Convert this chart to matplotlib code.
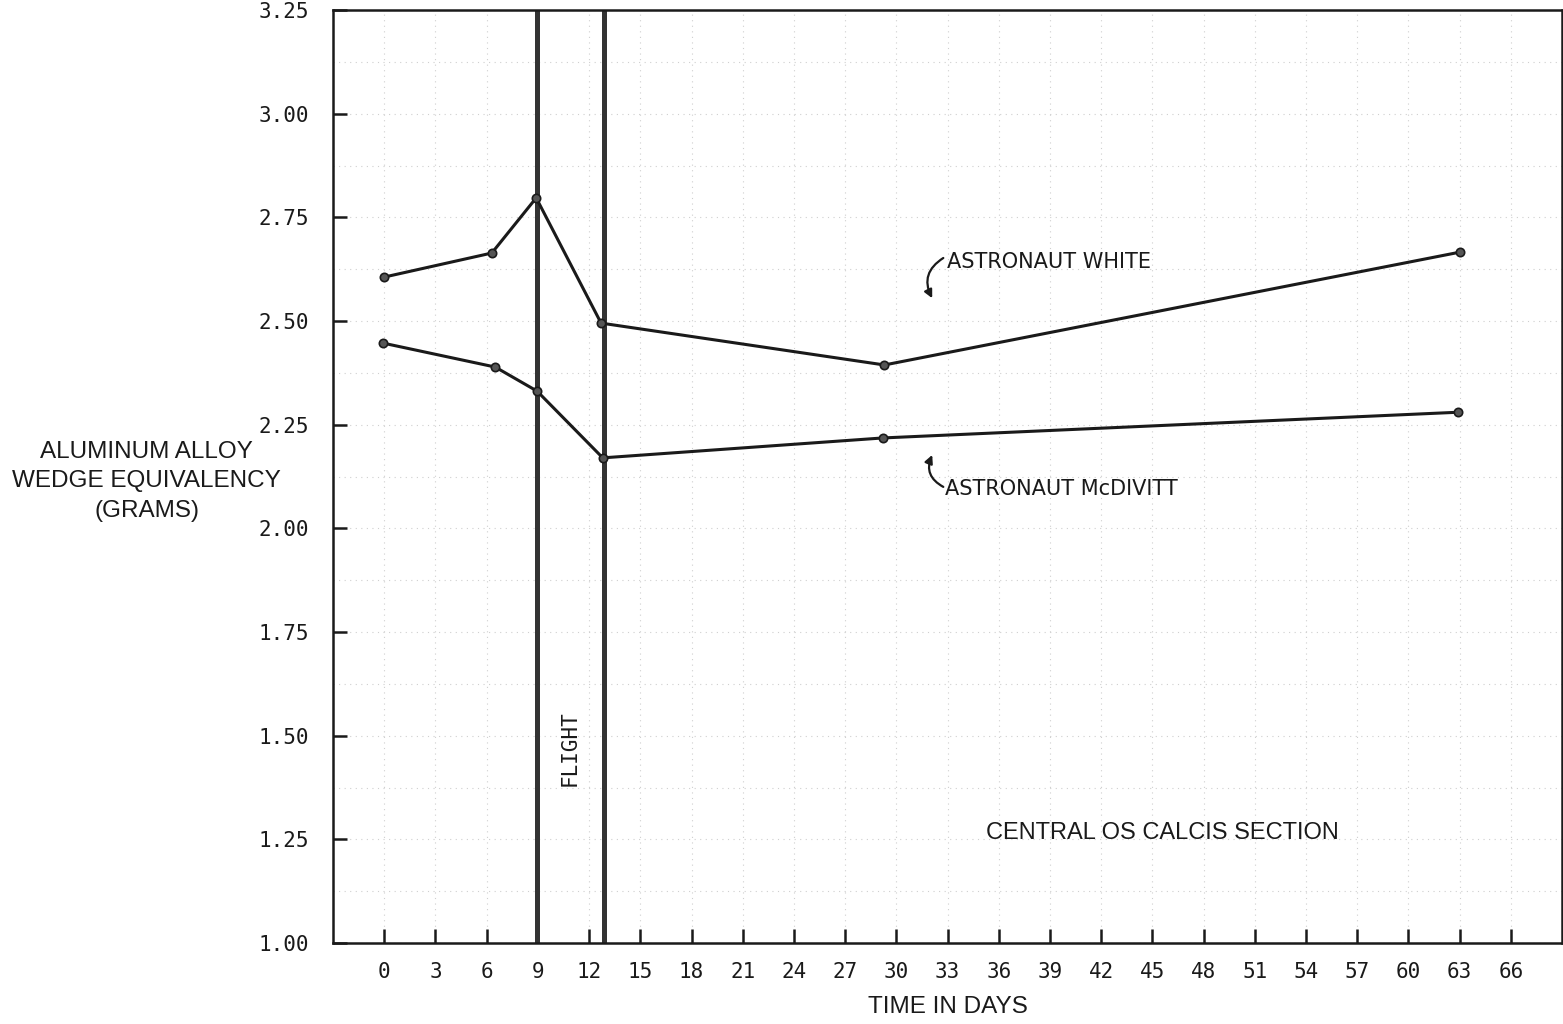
import matplotlib
matplotlib.use("Agg")
import matplotlib.pyplot as plt
import numpy as np

# ─── Data ────────────────────────────────────────────────────────────────────
white_days = [0.0, 6.3, 8.9, 12.7, 29.3, 63.0]
white_grams = [2.606, 2.664, 2.797, 2.495, 2.394, 2.666]

mcdivitt_days = [-0.1, 6.5, 8.95, 12.8, 29.2, 62.9]
mcdivitt_grams = [2.447, 2.389, 2.331, 2.170, 2.218, 2.280]

flight_start, flight_end = 8.95, 12.85

x_ticks = list(range(0, 67, 3))
y_ticks = [1.00, 1.25, 1.50, 1.75, 2.00, 2.25, 2.50, 2.75, 3.00, 3.25]

NARROW = ["Liberation Sans Narrow", "Liberation Sans", "DejaVu Sans"]
MONO = ["DejaVu Sans Mono"]
INK = "#1a1a1a"

fig = plt.figure(figsize=(15.63, 10.24), dpi=100)
ax = fig.add_axes([0.2131, 0.0791, 0.7863, 0.9111])

# faint paper grid
for gx in np.arange(-3, 70, 3):
    ax.axvline(gx, color="#cfcfcf", lw=0.8, ls=(0, (1, 4)), zorder=0)
for gy in np.arange(1.0, 3.26, 0.125):
    ax.axhline(gy, color="#cfcfcf", lw=0.8, ls=(0, (1, 4)), zorder=0)

# flight period
for fx in (flight_start, flight_end):
    ax.axvline(fx, color="#333333", lw=3.6, zorder=2)

ax.plot(white_days, white_grams, color=INK, lw=2.2, marker="o", ms=6,
        mfc="#555555", mec=INK, mew=1.2, zorder=3)
ax.plot(mcdivitt_days, mcdivitt_grams, color=INK, lw=2.2, marker="o", ms=6,
        mfc="#555555", mec=INK, mew=1.2, zorder=3)

ax.set_xlim(-3, 69)
ax.set_ylim(1.0, 3.25)
ax.set_xticks(x_ticks)
ax.set_xticklabels([str(t) for t in x_ticks], family=MONO, fontsize=15)
ax.set_yticks(y_ticks)
ax.set_yticklabels([f"{t:.2f}" for t in y_ticks], family=MONO, fontsize=15)
ax.tick_params(direction="in", length=10, width=1.8, color=INK, labelcolor=INK)
ax.tick_params(axis="x", pad=14)
ax.tick_params(axis="y", pad=17)
for sp in ax.spines.values():
    sp.set_linewidth(1.8)
    sp.set_color(INK)

ax.set_xlabel("TIME IN DAYS", family=NARROW, fontsize=17.5, color=INK, labelpad=10)
fig.text(0.094, 0.530, "ALUMINUM ALLOY\nWEDGE EQUIVALENCY\n(GRAMS)",
         family=NARROW, fontsize=17.5, color=INK, ha="center", va="center",
         linespacing=1.45)

# curved pointer arrows next to the labels
ax.annotate("", xy=(32.1, 2.555), xytext=(32.75, 2.652),
            arrowprops=dict(arrowstyle="-|>", color=INK, lw=1.6,
                            shrinkA=0, shrinkB=0, mutation_scale=12,
                            connectionstyle="arc3,rad=0.45"))
ax.annotate("", xy=(32.1, 2.177), xytext=(32.75, 2.100),
            arrowprops=dict(arrowstyle="-|>", color=INK, lw=1.6,
                            shrinkA=0, shrinkB=0, mutation_scale=12,
                            connectionstyle="arc3,rad=-0.45"))
ax.text(32.95, 2.642, "ASTRONAUT WHITE", family="DejaVu Sans", fontsize=15,
        color=INK, va="center")
ax.text(32.85, 2.095, "ASTRONAUT McDIVITT", family="DejaVu Sans", fontsize=15,
        color=INK, va="center")

ax.text(45.6, 1.265, "CENTRAL OS CALCIS SECTION", family=NARROW, fontsize=17,
        color=INK, ha="center", va="center")
ax.text(10.85, 1.47, "FLIGHT", family=MONO, fontsize=15, color=INK,
        rotation=90, ha="center", va="center")

fig.savefig("out.png", dpi=100, facecolor="white")
